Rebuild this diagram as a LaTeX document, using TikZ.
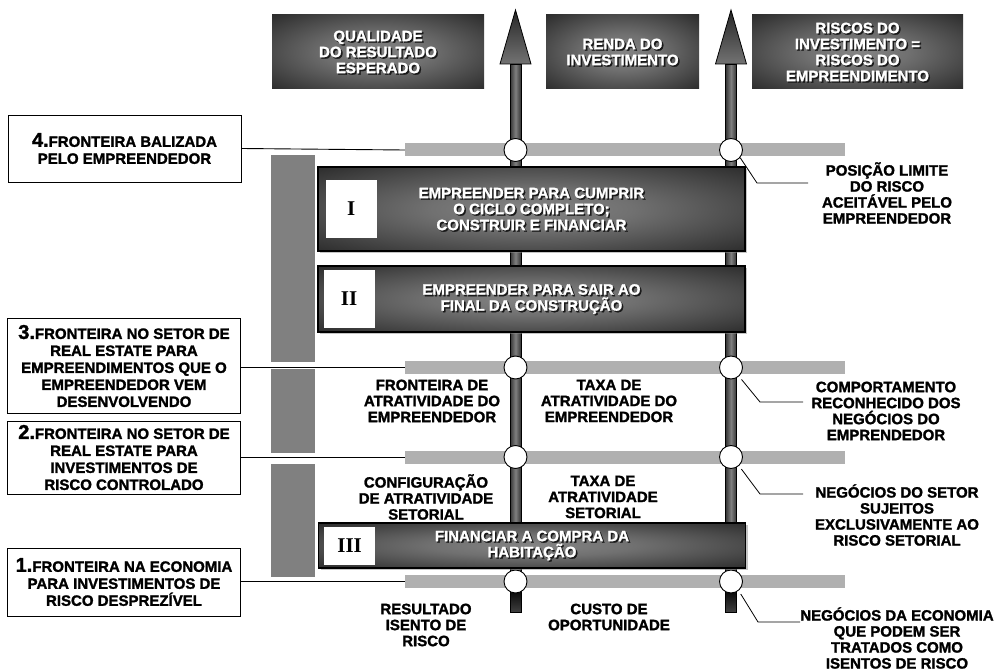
\documentclass[tikz,border=0pt]{standalone}
\usepackage{fontspec}
\setmainfont{Liberation Sans}[BoldFeatures={FakeBold=1.6}]
\newfontfamily\romfont{Liberation Serif}
\usetikzlibrary{positioning,shadows}
\pgfdeclareradialshading{glowbox}{\pgfpoint{0bp}{0bp}}{color(0bp)=(black!48); color(12bp)=(black!56); color(35bp)=(black!82); color(50bp)=(black!95); color(71bp)=(black)}
\tikzset{hdr/.style={rectangle, shade, shading=glowbox, minimum height=74pt}}
\tikzset{stage/.style={rectangle, draw=black, line width=1.2pt, shade, shading=glowbox, minimum width=427pt, drop shadow={shadow xshift=2pt, shadow yshift=-2pt, fill=black!45}}}
\tikzset{numbox/.style={rectangle, fill=white, minimum width=51pt, font=\romfont\bfseries\fontsize{21}{21}\selectfont}}
\tikzset{frontbox/.style={rectangle, draw=black, fill=white, line width=0.9pt, minimum width=233pt, align=center, inner sep=0pt, font=\bfseries\fontsize{15}{17}\selectfont}}
\tikzset{lbl/.style={align=center, inner sep=0pt, font=\bfseries\fontsize{15}{16}\selectfont}}
\tikzset{whitetxt/.style={lbl, text=white}}
\tikzset{shadetxt/.style={lbl, text=black!90, xshift=1.5pt, yshift=-1.5pt}}
\tikzset{band/.style={rectangle, fill=black!31, minimum width=440pt, minimum height=13pt, inner sep=0pt}}
\tikzset{ring/.style={circle, draw=black, fill=white, line width=0.9pt, minimum size=23pt, inner sep=0pt}}
\tikzset{sidebar/.style={fill=black!50}}
\tikzset{tie/.style={draw=black, line width=0.9pt}}
\tikzset{leader/.style={draw=black, line width=0.8pt}}
\newcommand{\embossed}[3]{%
  \node[shadetxt] (#1s) at (#2) {#3};
  \node[whitetxt] (#1) at (#2) {#3};}

\begin{document}
\begin{tikzpicture}[x=1pt, y=-1pt]
\useasboundingbox (0,0) rectangle (996,671);

% headers
\node[hdr, minimum width=212pt] (hdrQual) at (378,52) {};
\node[hdr, minimum width=153pt] (hdrRenda) at (622.5,52) {};
\node[hdr, minimum width=211pt] (hdrRisco) at (857.5,52) {};
\embossed{tQual}{hdrQual}{QUALIDADE\\DO RESULTADO\\ESPERADO}
\embossed{tRenda}{hdrRenda}{RENDA DO\\INVESTIMENTO}
\embossed{tRisco}{hdrRisco}{RISCOS DO\\INVESTIMENTO =\\RISCOS DO\\EMPREENDIMENTO}

% gray side bars
\fill[sidebar] (271,155) rectangle (315,362);
\fill[sidebar] (271,369) rectangle (315,453);
\fill[sidebar] (271,464) rectangle (315,577);

% frontier bands
\node[band] (band4) at (625,150) {};
\node[band] (band3) at (625,367.5) {};
\node[band] (band2) at (625,457) {};
\node[band] (band1) at (625,581.5) {};

% the two axes
\foreach \ax in {515.5,731} {
  \shade[left color=black!80, right color=black!80, middle color=black!50, draw=black, line width=0.6pt]
    (\ax-5.5,64) rectangle (\ax+5.5,588);
  \shade[top color=black, bottom color=black!75, draw=black, line width=0.6pt]
    (\ax-5.5,588) rectangle (\ax+5.5,612);
  \shade[top color=black!85, bottom color=black!55, draw=black, line width=0.8pt]
    (\ax-15.5,64) -- (\ax,10) -- (\ax+15.5,64) -- cycle;
}

% crossing points
\node[ring] (q4) at (515.5,150) {};
\node[ring] (r4) at (731,150) {};
\node[ring] (q3) at (515.5,367.5) {};
\node[ring] (r3) at (731,367.5) {};
\node[ring] (q2) at (515.5,457) {};
\node[ring] (r2) at (731,457) {};
\node[ring] (q1) at (515.5,581.5) {};
\node[ring] (r1) at (731,581.5) {};

% stages
\node[stage, minimum height=84pt] (stageI) at (531.5,209) {};
\node[stage, minimum height=66pt] (stageII) at (531.5,299) {};
\node[stage, minimum height=45pt] (stageIII) at (532,545.5) {};
\node[numbox, minimum height=58pt, right=8pt of stageI.west] (numI) {I};
\node[numbox, minimum height=58pt, right=6pt of stageII.west] (numII) {II};
\node[numbox, minimum height=38pt, right=6pt of stageIII.west] (numIII) {III};
\embossed{tStageI}{stageI}{EMPREENDER PARA CUMPRIR\\O CICLO COMPLETO;\\CONSTRUIR E FINANCIAR}
\embossed{tStageII}{stageII}{EMPREENDER PARA SAIR AO\\FINAL DA CONSTRUÇÃO}
\embossed{tStageIII}{stageIII}{FINANCIAR A COMPRA DA\\HABITAÇÃO}

% frontiers on the left
\node[frontbox, minimum height=67pt] (fr4) at (124.5,148.5)
  {{\fontsize{20}{17}\selectfont 4.}FRONTEIRA BALIZADA\\PELO EMPREENDEDOR};
\node[frontbox, minimum height=95pt] (fr3) at (124,366)
  {{\fontsize{20}{17}\selectfont 3.}FRONTEIRA NO SETOR DE\\REAL ESTATE PARA\\EMPREENDIMENTOS QUE O\\EMPREENDEDOR VEM\\DESENVOLVENDO};
\node[frontbox, minimum height=73pt] (fr2) at (124,457.5)
  {{\fontsize{20}{17}\selectfont 2.}FRONTEIRA NO SETOR DE\\REAL ESTATE PARA\\INVESTIMENTOS DE\\RISCO CONTROLADO};
\node[frontbox, minimum height=68pt] (fr1) at (124,582)
  {{\fontsize{20}{17}\selectfont 1.}FRONTEIRA NA ECONOMIA\\PARA INVESTIMENTOS DE\\RISCO DESPREZÍVEL};
\draw[tie] (fr4.east) -- (band4.west);
\draw[tie] (fr3.east |- band3) -- (band3.west);
\draw[tie] (fr2.east |- band2) -- (band2.west);
\draw[tie] (fr1.east |- band1) -- (band1.west);

% middle labels
\node[lbl] (frAtr) at (432,401) {FRONTEIRA DE\\ATRATIVIDADE DO\\EMPREENDEDOR};
\node[lbl] (txAtr) at (609,401) {TAXA DE\\ATRATIVIDADE DO\\EMPREENDEDOR};
\node[lbl] (cfSet) at (426,497) {CONFIGURAÇÃO\\DE ATRATIVIDADE\\SETORIAL};
\node[lbl] (txSet) at (603,497) {TAXA DE\\ATRATIVIDADE\\SETORIAL};
\node[lbl] (resIs) at (426,625) {RESULTADO\\ISENTO DE\\RISCO};
\node[lbl] (custo) at (609,617) {CUSTO DE\\OPORTUNIDADE};

% risk labels on the right
\node[lbl] (rkLim) at (887,193) {POSIÇÃO LIMITE\\DO RISCO\\ACEITÁVEL PELO\\EMPREENDEDOR};
\node[lbl] (rkComp) at (886,411) {COMPORTAMENTO\\RECONHECIDO DOS\\NEGÓCIOS DO\\EMPRENDEDOR};
\node[lbl] (rkSet) at (897,515) {NEGÓCIOS DO SETOR\\SUJEITOS\\EXCLUSIVAMENTE AO\\RISCO SETORIAL};
\node[lbl] (rkEco) at (897,638) {NEGÓCIOS DA ECONOMIA\\QUE PODEM SER\\TRATADOS COMO\\ISENTOS DE RISCO};
\coordinate (k4a) at (757,183);
\coordinate (k4b) at (808,183);
\coordinate (k3a) at (760,402);
\coordinate (k3b) at (803,402);
\coordinate (k2a) at (760,494);
\coordinate (k2b) at (803,494);
\coordinate (k1a) at (758,622);
\coordinate (k1b) at (800,622);
\draw[leader] (r4.-40) -- (k4a) -- (k4b);
\draw[leader, shorten <=4pt] (r3.-48) -- (k3a) -- (k3b);
\draw[leader, shorten <=4pt] (r2.-48) -- (k2a) -- (k2b);
\draw[leader, shorten <=4pt] (r1.-50) -- (k1a) -- (k1b);
\end{tikzpicture}
\end{document}
